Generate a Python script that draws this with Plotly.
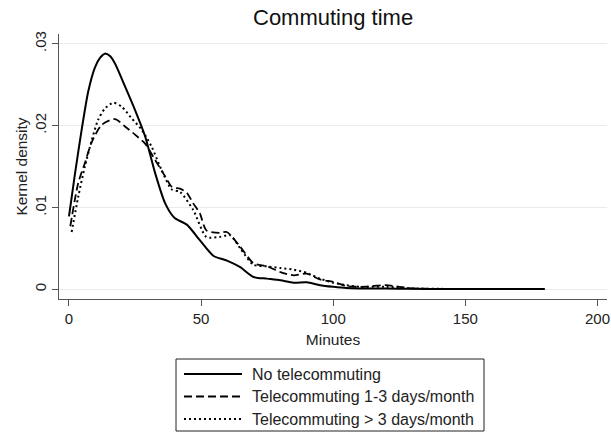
import plotly.graph_objects as go

# ---- data ----
series_names = ["No telecommuting", "Telecommuting 1-3 days/month", "Telecommuting > 3 days/month"]

none_x = [0, 2.3, 4.8, 7.3, 9.8, 11.8, 13.6, 15.5, 17.4, 21.2, 25, 28.8, 32.6, 36.4, 40, 44.6, 49.5,
          54.6, 59.8, 64.8, 69.8, 75, 80, 85, 90, 95, 100, 105, 110, 120, 130, 140, 150, 160, 170, 180]
none_y = [.0089, .0142, .0195, .0242, .0271, .0283, .0288, .0285, .0276, .0248, .0219, .0187, .0142,
          .0105, .0087, .0079, .0060, .0041, .0035, .0027, .0015, .0013, .0011, .0008, .00085, .0005,
          .0003, .00015, .0001, .00008, .00005, .00003, .00003, .00003, .00002, .00002]

low_x = [0.5, 3.5, 6, 8.5, 12.4, 17.4, 21.2, 25, 28.8, 32.6, 36.4, 39, 42, 44.6, 47, 49.5, 52, 57, 59.7,
         64.8, 69.8, 75, 80, 85, 90, 95, 100, 105, 110, 115, 120, 125, 130, 140, 150, 160, 170, 180]
low_y = [.0077, .0130, .0154, .0179, .0201, .0208, .0199, .0189, .0178, .0158, .0138, .0125, .0123,
         .0118, .0105, .0093, .0072, .0069, .0070, .0052, .0032, .0028, .0021, .0017, .0019, .0012,
         .0009, .0004, .0003, .0004, .0005, .0003, .0001, .00005, .00004, .00004, .00004, .00004]

high_x = [1, 3.5, 6, 8.6, 11, 13.6, 16.8, 20, 23.7, 27.5, 31.3, 35, 38.9, 42, 47, 52, 57, 61, 64.8,
          69.8, 75, 80, 85, 90, 95, 100, 105, 110, 120, 130, 140, 150, 160, 170, 180]
high_y = [.0070, .0113, .0150, .0182, .0207, .0221, .0228, .0223, .0209, .0195, .0174, .0146, .0122,
          .0119, .0097, .0064, .0064, .0066, .0050, .0030, .0028, .0026, .0024, .0020, .0013, .0008,
          .0005, .0003, .0003, .0001, .00005, .00004, .00004, .00004, .00004]

x_ticks = [0, 50, 100, 150, 200]
x_tick_labels = ["0", "50", "100", "150", "200"]
y_ticks = [0, 0.01, 0.02, 0.03]
y_tick_labels = ["0", ".01", ".02", ".03"]

FONT = "Liberation Sans, Arial, sans-serif"

W, H = 611, 433
# plot area in window pixels: left 59, right 607, top 34, bottom 299
L, T = 59, 34
R = W - 607
B = H - 299
PW, PH = W - L - R, H - T - B


def px2paper_x(px):
    return (px - L) / PW


def px2paper_y(py):
    return (H - B - py) / PH


fig = go.Figure()
styles = [("solid", 2.0), ("8px,4px", 1.8), ("2px,3px", 2.0)]
for name, xs, ys, (dash, w) in zip(series_names, [none_x, low_x, high_x], [none_y, low_y, high_y], styles):
    fig.add_trace(go.Scatter(x=xs, y=ys, mode="lines", name=name, showlegend=False,
                             line=dict(color="black", width=w, dash=dash, shape="spline", smoothing=0.7)))

# custom legend (wide line samples like the reference)
shapes = [dict(type="rect", xref="paper", yref="paper",
               x0=px2paper_x(176), x1=px2paper_x(484), y0=px2paper_y(359), y1=px2paper_y(431),
               line=dict(color="#222", width=1), fillcolor="white", layer="above")]
annotations = []
row_y = [374, 396.5, 419]
for name, (dash, w), ry in zip(series_names, styles, row_y):
    shapes.append(dict(type="line", xref="paper", yref="paper",
                       x0=px2paper_x(184), x1=px2paper_x(242), y0=px2paper_y(ry), y1=px2paper_y(ry),
                       line=dict(color="black", width=w, dash=dash)))
    annotations.append(dict(text=name, xref="paper", yref="paper", x=px2paper_x(250), y=px2paper_y(ry),
                            xanchor="left", yanchor="middle", showarrow=False,
                            font=dict(size=16, color="#222", family=FONT)))

annotations.append(dict(text="Commuting time", xref="paper", yref="paper",
                        x=px2paper_x(333), y=px2paper_y(17), xanchor="center", yanchor="middle",
                        showarrow=False, font=dict(size=22, color="#111", family=FONT)))

fig.update_layout(
    width=W, height=H,
    margin=dict(l=L, r=R, t=T, b=B),
    paper_bgcolor="white", plot_bgcolor="white",
    font=dict(family=FONT, size=15, color="#222"),
    shapes=shapes, annotations=annotations,
    showlegend=False,
)
fig.update_xaxes(range=[-3.78, 203.6], tickvals=x_ticks, ticktext=x_tick_labels, automargin=False,
                 showline=True, linecolor="#555", linewidth=1, ticks="outside", ticklen=6,
                 tickcolor="#555", showgrid=False, zeroline=False,
                 title=dict(text="Minutes", standoff=8, font=dict(size=15.5)), tickfont=dict(size=15))
fig.update_yaxes(range=[-0.00119, 0.0312], tickvals=y_ticks, ticktext=y_tick_labels, automargin=False,
                 showline=True, linecolor="#555", linewidth=1, ticks="outside", ticklen=6,
                 tickcolor="#555", showgrid=True, gridcolor="#ebebeb", gridwidth=1.2, zeroline=False,
                 tickangle=-90, title=dict(text="Kernel density", standoff=0, font=dict(size=15.5)),
                 tickfont=dict(size=15))

# remove the browser's default 8px page margin so the figure fills the window exactly
fig.write_html("out.html",
               config={"displayModeBar": False},
               post_script="document.body.style.margin='0';document.body.style.overflow='hidden';")
